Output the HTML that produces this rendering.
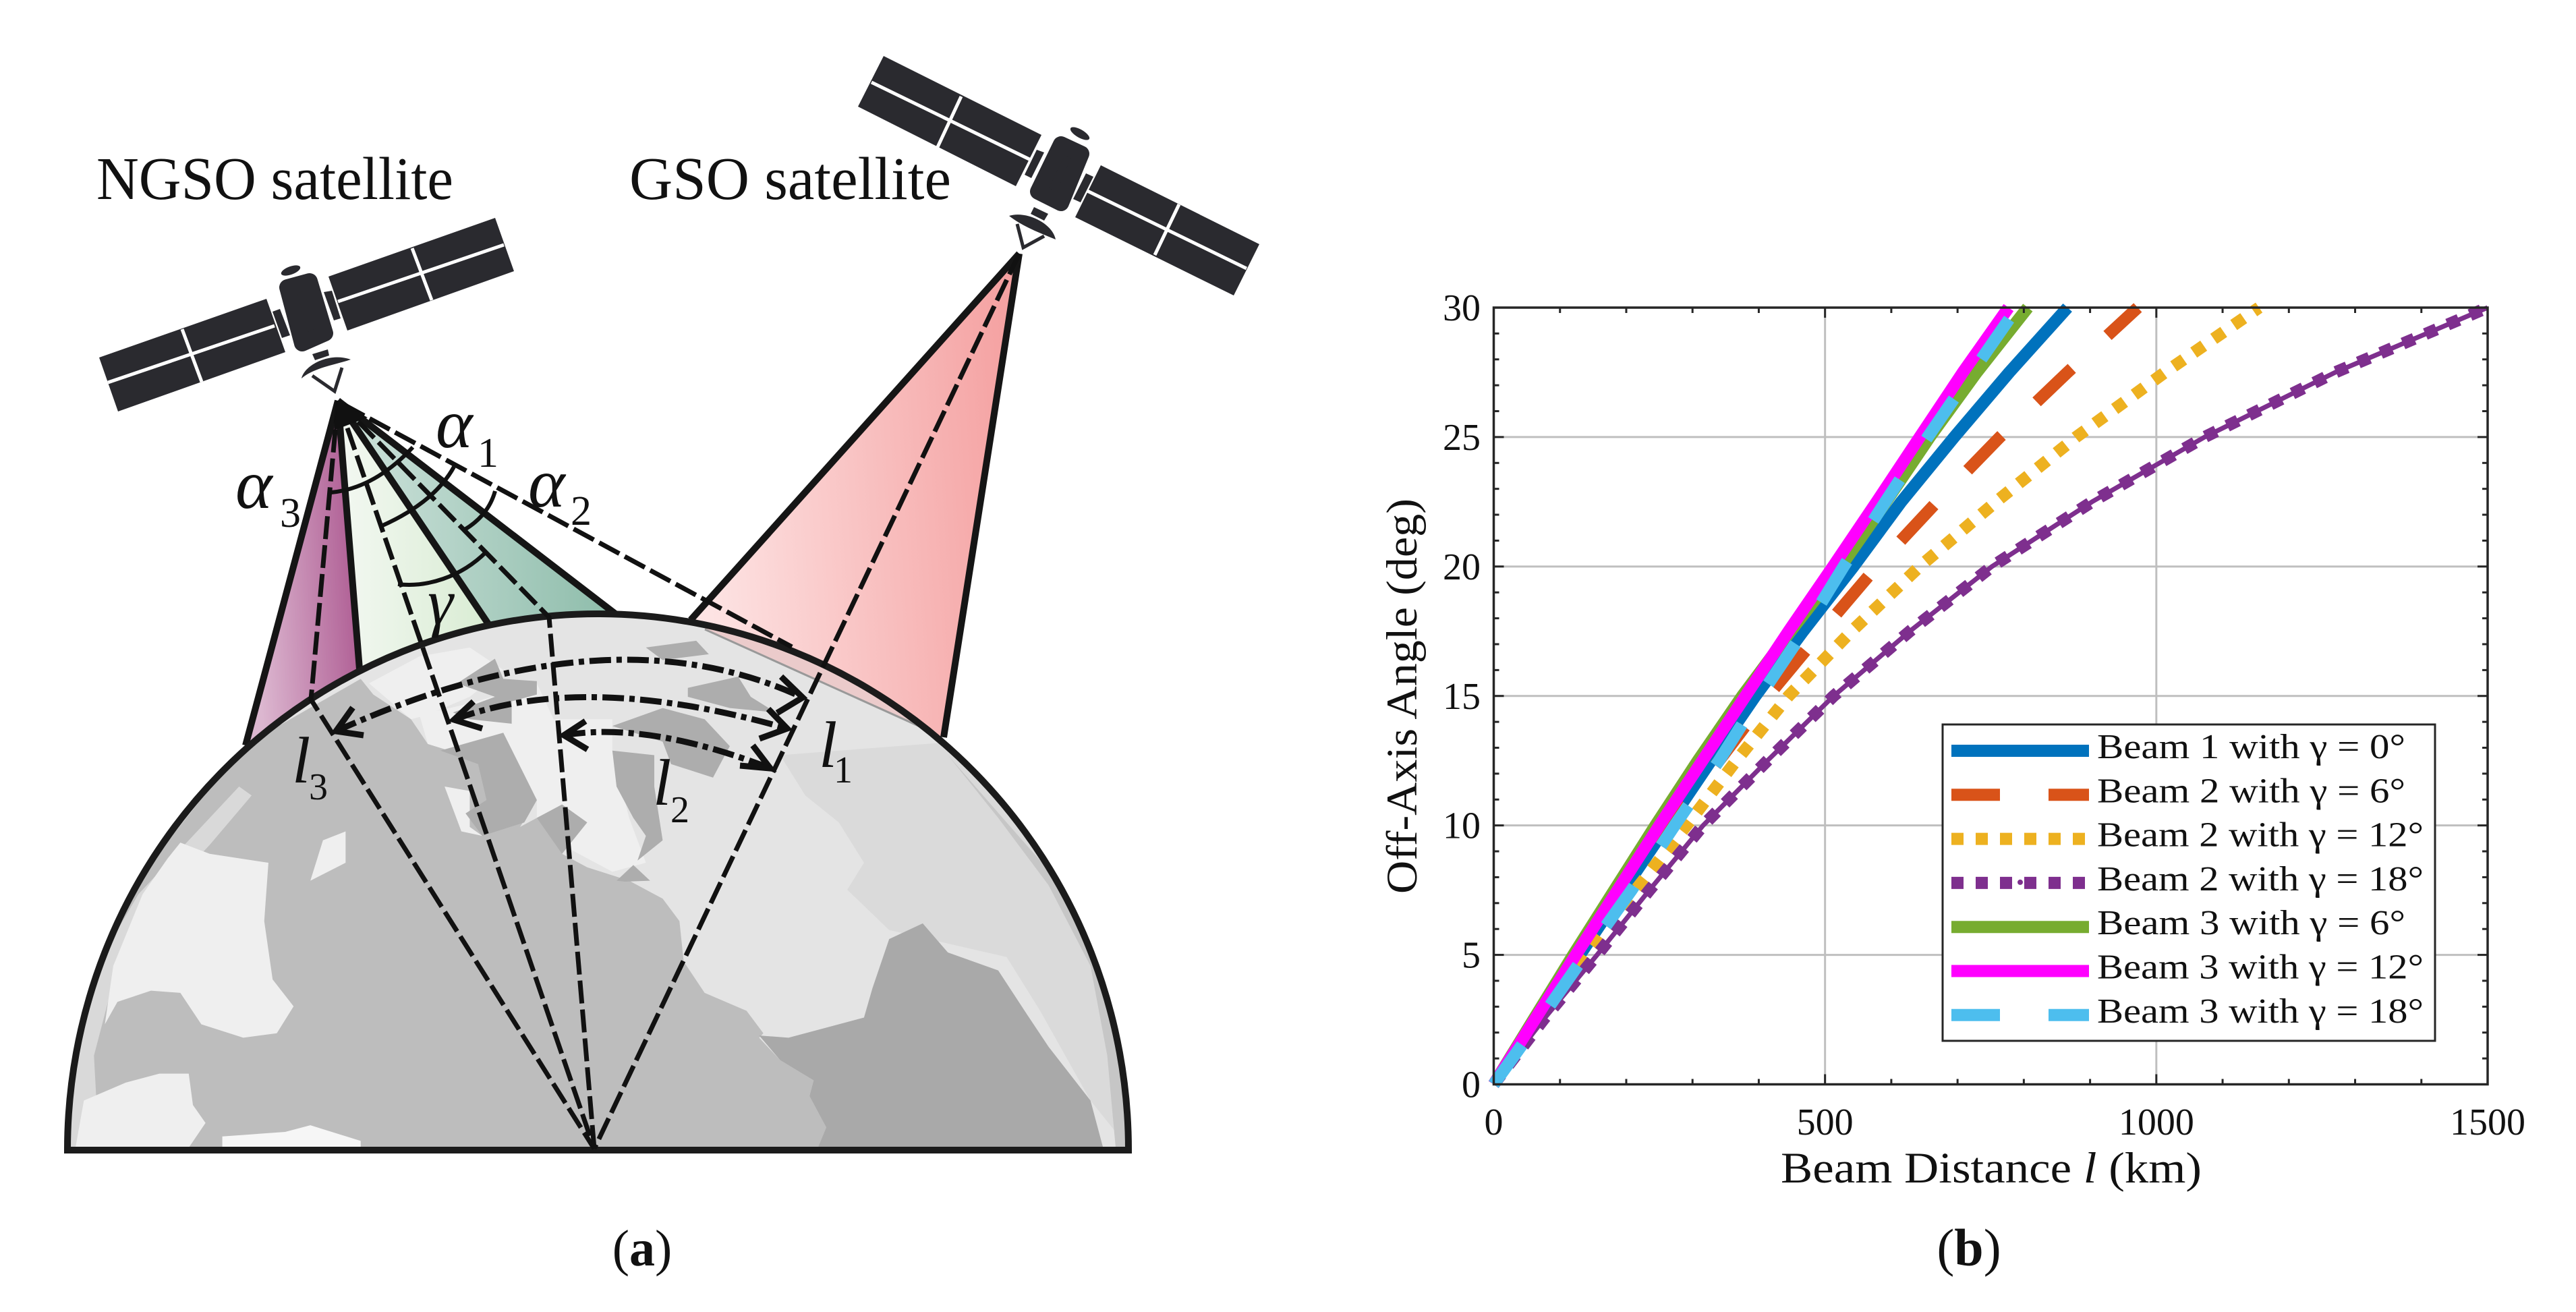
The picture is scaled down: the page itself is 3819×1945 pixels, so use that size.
<!DOCTYPE html>
<html lang="en">
<head>
<meta charset="utf-8">
<title>Satellite beam geometry and off-axis angle chart</title>
<style>
html,body{margin:0;padding:0;background:#fff;}
svg{display:block;}
text{font-family:"Liberation Serif",serif;fill:#111;}
</style>
</head>
<body>
<svg id="fig" xmlns="http://www.w3.org/2000/svg" width="3819" height="1945" viewBox="0 0 3819 1945">
<defs>
<linearGradient id="gPurple" x1="0" x2="1" y1="0.2" y2="0"><stop offset="0" stop-color="#dcb7d0"/><stop offset="1" stop-color="#a9528c"/></linearGradient>
<linearGradient id="gLight" x1="0" x2="1" y1="0" y2="0"><stop offset="0" stop-color="#f3f8f2"/><stop offset="1" stop-color="#d9ecd3"/></linearGradient>
<linearGradient id="gTeal" x1="0" x2="1" y1="0" y2="0"><stop offset="0" stop-color="#cfe3dc"/><stop offset="1" stop-color="#8dbcaa"/></linearGradient>
<linearGradient id="gPink" x1="0" x2="1" y1="0.1" y2="0"><stop offset="0" stop-color="#fde3e3"/><stop offset="1" stop-color="#f49e9e"/></linearGradient>
<clipPath id="earthClip"><path d="M100,1705 A786.5,795 0 0 1 1673,1705 Z"/></clipPath>
</defs>

<g id="panel-a">
  <g>
    <polygon points="501,594 364,1105 533,992" fill="url(#gPurple)"/>
    <polygon points="501,594 533,992 724,925" fill="url(#gLight)"/>
    <polygon points="501,594 724,925 915,910" fill="url(#gTeal)"/>
    <polygon points="1511,376 1024,919 1399,1093" fill="url(#gPink)"/>
    <g stroke="#151515" stroke-width="10" fill="none">
      <line x1="501" y1="594" x2="364" y2="1105"/>
      <line x1="501" y1="594" x2="533" y2="992"/>
      <line x1="501" y1="594" x2="724" y2="925"/>
      <line x1="501" y1="594" x2="915" y2="912"/>
      <line x1="1511" y1="376" x2="1024" y2="919"/>
      <line x1="1511" y1="376" x2="1399" y2="1093"/>
    </g>
  </g>

  <g>
    <path d="M100,1705 A786.5,795 0 0 1 1673,1705 Z" fill="#e4e4e4"/>
    <g clip-path="url(#earthClip)">
      <g transform="translate(0,900) scale(1.2436,0.665)">
        <polygon fill="#dadada" points="930,330 960,420 1000,480 1030,570 1010,630 1060,720 1200,780 1240,900 1300,1100 1345,1205 1345,700 1140,300"/>
        <polygon fill="#c6c6c6" points="1130,330 1190,470 1250,620 1300,800 1320,1000 1330,1205 1345,1205 1345,900 1280,650 1200,480"/>
        <polygon fill="#bdbdbd" points="80,1205 90,900 150,640 290,310 430,160 445,195 490,250 510,305 570,340 600,300 640,430 620,490 640,470 670,440 700,480 670,550 700,580 750,610 790,650 810,700 815,790 840,860 890,900 910,950 905,960 930,1010 970,1055 965,1090 985,1160 975,1205"/>
        <polygon fill="#d9d9d9" points="75,1205 85,1000 115,800 165,640 225,520 285,400 300,420 250,530 190,650 140,800 112,1000 118,1205"/>
        <polygon fill="#a9a9a9" points="905,955 940,960 1030,915 1040,850 1060,740 1100,705 1130,770 1190,810 1225,910 1250,980 1300,1100 1315,1205 975,1205 985,1160 965,1090 970,1055 930,1010"/>
        <polygon fill="#efefef" points="215,525 250,550 320,570 315,700 325,830 350,890 330,950 290,960 240,930 215,860 180,855 140,880 125,930 135,800 170,640 200,560"/>
        <polygon fill="#efefef" points="385,520 412,500 412,570 370,610"/>
        <polygon fill="#efefef" points="90,1205 100,1100 150,1060 190,1040 225,1040 230,1110 245,1150 225,1205"/>
        <polygon fill="#f6f6f6" points="265,1205 265,1180 340,1170 370,1155 430,1190 430,1205"/>
        <polygon fill="#efefef" points="440,170 500,110 560,90 600,140 560,200 510,240 490,250"/>
        <polygon fill="#efefef" points="500,240 560,215 640,170 660,250 730,250 730,320 750,470 770,570 730,590 670,530 700,480 670,440 640,470 640,430 600,300 570,340 510,305"/>
        <polygon fill="#efefef" points="530,400 560,410 560,490 575,510 550,500"/>
        <polygon fill="#adadad" points="545,170 590,115 600,160 640,165 640,195 610,210 610,260 560,250 540,235 590,200"/>
        <polygon fill="#adadad" points="525,320 600,280 640,430 625,480 575,510 555,460 580,430 570,350"/>
        <polygon fill="#adadad" points="640,470 670,440 700,480 670,550"/>
        <polygon fill="#adadad" points="730,265 790,225 840,250 870,310 850,380 800,350 790,300"/>
        <polygon fill="#adadad" points="730,320 780,330 780,400 790,520 760,565 770,510 755,470 735,400"/>
        <polygon fill="#adadad" points="820,180 880,155 895,200 925,235 870,225 820,200"/>
        <polygon fill="#adadad" points="770,90 830,75 845,105 790,118"/>
        <polygon fill="#adadad" points="735,610 755,575 775,610 745,612"/>
      </g>
      <polygon points="1045,933 1399,1093 1420,900 1045,800" fill="#f4a6a6" fill-opacity="0.4"/>
      <line x1="1045" y1="933" x2="1399" y2="1093" stroke="#999" stroke-width="3"/>
    </g>
    <path d="M100,1705 A786.5,795 0 0 1 1673,1705 Z" fill="none" stroke="#1b1b1b" stroke-width="10"/>
  </g>

  <g stroke="#111" stroke-width="7" fill="none" stroke-dasharray="34 9">
    <polyline points="501,594 461,1037 881,1703"/>
    <polyline points="501,594 625,955 881,1703"/>
    <polyline points="501,594 814,915 881,1703"/>
    <line x1="1511" y1="376" x2="881" y2="1703"/>
    <line x1="510" y1="600" x2="1174" y2="959"/>
  </g>
  <polygon points="501,594 495,638 545,619" fill="#111"/>

  <g stroke="#111" stroke-width="6" fill="none">
    <path d="M491,730 Q555,724 612,663"/>
    <path d="M565,780 Q644,745 673,692"/>
    <path d="M689,785 Q724,764 734,728"/>
    <path d="M590,866 C632,871 683,856 721,818"/>
  </g>

  <g stroke="#111" stroke-width="9" fill="none">
    <path stroke-dasharray="32 8 8 8" d="M498,1084 Q904,901 1190,1034"/>
    <path stroke-dasharray="32 8 8 8" d="M673,1067 Q866,994 1167,1080"/>
    <path stroke-dasharray="32 8 8 8" d="M836,1090 Q961,1069 1142,1139"/>
    <polyline points="523,1049 498,1084 539,1090"/>
    <polyline points="1158,1003 1190,1034 1152,1057"/>
    <polyline points="702,1040 673,1067 715,1080"/>
    <polyline points="1139,1051 1167,1080 1126,1095"/>
    <polyline points="868,1069 836,1090 871,1111"/>
    <polyline points="1116,1105 1142,1139 1097,1135"/>
  </g>

  <g>
    <polygon points="147,530 395,443 423,522 175,610" fill="#2a2a2f"/>
    <polygon points="734,323 762,402 515,490 487,410" fill="#2a2a2f"/>
    <g stroke="#fff" stroke-width="5">
      <line x1="160" y1="567" x2="407" y2="483"/><line x1="270" y1="488" x2="299" y2="566"/>
      <line x1="501" y1="447" x2="747" y2="363"/><line x1="611" y1="368" x2="640" y2="445"/>
    </g>
    <polygon points="404,462 415,458 430,497 418,501" fill="#2a2a2f"/>
    <polygon points="480,433 492,431 505,472 495,475" fill="#2a2a2f"/>
    <polygon points="426,426 459,417 482,494 448,509" fill="#2a2a2f" stroke="#2a2a2f" stroke-width="24" stroke-linejoin="round"/>
    <ellipse cx="431" cy="401" rx="15" ry="6" transform="rotate(-20 431 401)" fill="#2a2a2f"/>
    <polygon points="463,525 486,518 488,527 467,534" fill="#2a2a2f"/>
    <path d="M447,561 C452,540 490,522 520,533 C500,540 465,545 447,561 Z" fill="#2a2a2f"/>
    <polyline points="463,557 496,580 507,545" fill="none" stroke="#2a2a2f" stroke-width="5"/>
  </g>

  <g>
    <polygon points="1310,83 1544,200 1506,276 1272,158" fill="#2a2a2f"/>
    <polygon points="1632,245 1867,362 1829,438 1594,322" fill="#2a2a2f"/>
    <g stroke="#fff" stroke-width="5">
      <line x1="1292" y1="122" x2="1528" y2="237"/><line x1="1425" y1="143" x2="1390" y2="218"/>
      <line x1="1612" y1="283" x2="1848" y2="398"/><line x1="1748" y1="303" x2="1712" y2="378"/>
    </g>
    <polygon points="1537,222 1548,226 1529,264 1519,259" fill="#2a2a2f"/>
    <polygon points="1610,257 1621,262 1602,300 1591,295" fill="#2a2a2f"/>
    <polygon points="1573,214 1603,228 1573,301 1539,284" fill="#2a2a2f" stroke="#2a2a2f" stroke-width="24" stroke-linejoin="round"/>
    <ellipse cx="1601" cy="198" rx="16" ry="6" transform="rotate(30 1601 198)" fill="#2a2a2f"/>
    <polygon points="1533,307 1554,317 1548,327 1528,317" fill="#2a2a2f"/>
    <path d="M1496,320 C1520,312 1560,330 1565,355 C1540,345 1515,335 1496,320 Z" fill="#2a2a2f"/>
    <polyline points="1508,332 1517,367 1548,350" fill="none" stroke="#2a2a2f" stroke-width="5"/>
  </g>

  <text x="143" y="295" font-size="90" textLength="529" lengthAdjust="spacingAndGlyphs">NGSO satellite</text>
  <text x="933" y="295" font-size="90" textLength="477" lengthAdjust="spacingAndGlyphs">GSO satellite</text>

  <g font-style="italic">
    <text x="646" y="663" font-size="104">α</text>
    <text x="708" y="692" font-size="62" font-style="normal">1</text>
    <text x="783" y="751" font-size="104">α</text>
    <text x="846" y="778" font-size="62" font-style="normal">2</text>
    <text x="349" y="753" font-size="104">α</text>
    <text x="415" y="781" font-size="62" font-style="normal">3</text>
    <text x="634" y="925" font-size="96">γ</text>
    <text x="1214" y="1137" font-size="98">l</text>
    <text x="1236" y="1160" font-size="56" font-style="normal">1</text>
    <text x="968" y="1193" font-size="98">l</text>
    <text x="994" y="1219" font-size="56" font-style="normal">2</text>
    <text x="433" y="1160" font-size="98">l</text>
    <text x="458" y="1185" font-size="56" font-style="normal">3</text>
  </g>

  <text x="952" y="1876" font-size="76" text-anchor="middle">(<tspan font-weight="bold">a</tspan>)</text>
</g>

<g id="panel-b"></g>
<text x="2919" y="1876" font-size="78" text-anchor="middle">(<tspan font-weight="bold">b</tspan>)</text>
</svg>

<script>
const angleGrid = [0, 2.5, 5, 7.5, 10, 12.5, 15, 17.5, 20, 22.5, 25, 27.5, 30];
const beam1Gamma0 = [0, 65, 130, 196, 262, 328, 395, 467, 543, 615, 695, 778, 866];
const beam2Gamma6 = [0, 66, 132, 199, 267, 340, 414, 495, 578, 669, 764, 866, 972];
const beam2Gamma12 = [0, 68, 140, 214, 291, 366, 445, 540, 643, 758, 879, 1013, 1155];
const beam2Gamma18 = [0, 75, 156, 235, 316, 413, 513, 628, 752, 903, 1073, 1270, 1500];
const beam3Gamma6 = [0, 60, 120, 182, 244, 308, 375, 448, 524, 592, 658, 729, 806];
const beam3Gamma12 = [0, 62, 124, 187, 250, 315, 380, 445, 512, 578, 643, 708, 777];
const beam3Gamma18 = [0, 70, 138, 208, 273, 340, 402, 468, 528, 591, 655, 722, 790];
const seriesLabels = ['Beam 1 with γ = 0°', 'Beam 2 with γ = 6°', 'Beam 2 with γ = 12°', 'Beam 2 with γ = 18°', 'Beam 3 with γ = 6°', 'Beam 3 with γ = 12°', 'Beam 3 with γ = 18°'];
const xTickLabels = [0, 500, 1000, 1500];
const yTickLabels = [0, 5, 10, 15, 20, 25, 30];
const xMinorStep = 100;
const yMinorStep = 1;

const seriesValues = [beam1Gamma0, beam2Gamma6, beam2Gamma12, beam2Gamma18, beam3Gamma6, beam3Gamma12, beam3Gamma18];
const seriesColors = ['#0072bd', '#d95319', '#edb120', '#7e2f8e', '#77ac30', '#ff00ff', '#4dbeee'];
const seriesDashes = ['', '72 72', '18 18', '18 18', '', '', '72 72'];
const seriesNames = ['beam-1-gamma-0', 'beam-2-gamma-6', 'beam-2-gamma-12', 'beam-2-gamma-18', 'beam-3-gamma-6', 'beam-3-gamma-12', 'beam-3-gamma-18'];

const plotLeft = 2214.5, plotRight = 3688, plotTop = 456, plotBottom = 1607.5;
const xDomainMax = 1500, yDomainMax = 30;
function xScale(v) { return plotLeft + (v / xDomainMax) * (plotRight - plotLeft); }
function yScale(v) { return plotBottom - (v / yDomainMax) * (plotBottom - plotTop); }

const NS = 'http://www.w3.org/2000/svg';
const root = document.getElementById('panel-b');
function make(tag, attrs, parent) {
  const el = document.createElementNS(NS, tag);
  for (const k in attrs) el.setAttribute(k, attrs[k]);
  (parent || root).appendChild(el);
  return el;
}

const gridGroup = make('g', {});


xTickLabels.forEach(function (v) {
  if (v === 0 || v === xDomainMax) return;
  const gl = make('line', { x1: xScale(v), x2: xScale(v), y1: plotTop, y2: plotBottom, stroke: '#bfbfbf', 'stroke-width': 3 }, gridGroup);
  
  
});
yTickLabels.forEach(function (v) {
  if (v === 0 || v === yDomainMax) return;
  const gl = make('line', { x1: plotLeft, x2: plotRight, y1: yScale(v), y2: yScale(v), stroke: '#bfbfbf', 'stroke-width': 3 }, gridGroup);
  
  
});

const seriesGroup = make('g', { fill: 'none' });


seriesValues.forEach(function (vals, i) {
  const pts = vals.map(function (km, j) { return xScale(km).toFixed(1) + ',' + yScale(angleGrid[j]).toFixed(1); }).join(' ');
  if (i === 3) {
    const thin = make('polyline', { points: pts, stroke: seriesColors[i], 'stroke-width': 7, 'stroke-linejoin': 'round' }, seriesGroup);
    
    
  }
  const line = make('polyline', { points: pts, stroke: seriesColors[i], 'stroke-width': 18, 'stroke-linejoin': 'round' }, seriesGroup);
  if (seriesDashes[i]) line.setAttribute('stroke-dasharray', seriesDashes[i]);
  
  
});

const axesGroup = make('g', { stroke: '#262626', fill: 'none' });


make('rect', { x: plotLeft, y: plotTop, width: plotRight - plotLeft, height: plotBottom - plotTop, 'stroke-width': 3.5 }, axesGroup);
for (let v = 0; v <= xDomainMax; v += xMinorStep) {
  const len = xTickLabels.indexOf(v) >= 0 ? 15 : 8;
  make('line', { x1: xScale(v), x2: xScale(v), y1: plotBottom, y2: plotBottom - len, 'stroke-width': 3 }, axesGroup);
  make('line', { x1: xScale(v), x2: xScale(v), y1: plotTop, y2: plotTop + len, 'stroke-width': 3 }, axesGroup);
}
for (let v = 0; v <= yDomainMax; v += yMinorStep) {
  const len = yTickLabels.indexOf(v) >= 0 ? 15 : 8;
  make('line', { x1: plotLeft, x2: plotLeft + len, y1: yScale(v), y2: yScale(v), 'stroke-width': 3 }, axesGroup);
  make('line', { x1: plotRight, x2: plotRight - len, y1: yScale(v), y2: yScale(v), 'stroke-width': 3 }, axesGroup);
}

xTickLabels.forEach(function (v) {
  const t = make('text', { x: xScale(v), y: 1682, 'font-size': 56, 'text-anchor': 'middle' });
  t.textContent = v;
  
  
});
yTickLabels.forEach(function (v) {
  const t = make('text', { x: 2195, y: yScale(v) + 19, 'font-size': 56, 'text-anchor': 'end' });
  t.textContent = v;
  
  
});

const xTitle = make('text', { x: 2640, y: 1753, 'font-size': 65, textLength: 624, lengthAdjust: 'spacingAndGlyphs' });


xTitle.innerHTML = 'Beam Distance <tspan font-style="italic">l</tspan> (km)';

const yTitle = make('text', { transform: 'translate(2100,1325) rotate(-90)', 'font-size': 65, textLength: 586, lengthAdjust: 'spacingAndGlyphs' });


yTitle.textContent = 'Off-Axis Angle (deg)';

const legend = make('g', {});


const legendBox = make('rect', { x: 2880, y: 1074, width: 730, height: 469, fill: '#fff', stroke: '#262626', 'stroke-width': 3 }, legend);


seriesLabels.forEach(function (label, i) {
  const rowY = 1113 + i * 65.3;
  const entry = make('g', {}, legend);
  
  
  const sample = make('line', { x1: 2893, x2: 3097, y1: rowY, y2: rowY, stroke: seriesColors[i], 'stroke-width': 18 }, entry);
  if (seriesDashes[i]) sample.setAttribute('stroke-dasharray', seriesDashes[i]);
  
  
  const txt = make('text', { x: 3109, y: rowY + 11, 'font-size': 52, textLength: label.length > 18 ? 484 : 457, lengthAdjust: 'spacingAndGlyphs' }, entry);
  txt.textContent = label;
  
  
  if (i === 3) {
    const dot = make('ellipse', { cx: 2995, cy: rowY - 1, rx: 4, ry: 4, fill: seriesColors[i] }, entry);
    
    
  }
});
</script>
</body>
</html>
